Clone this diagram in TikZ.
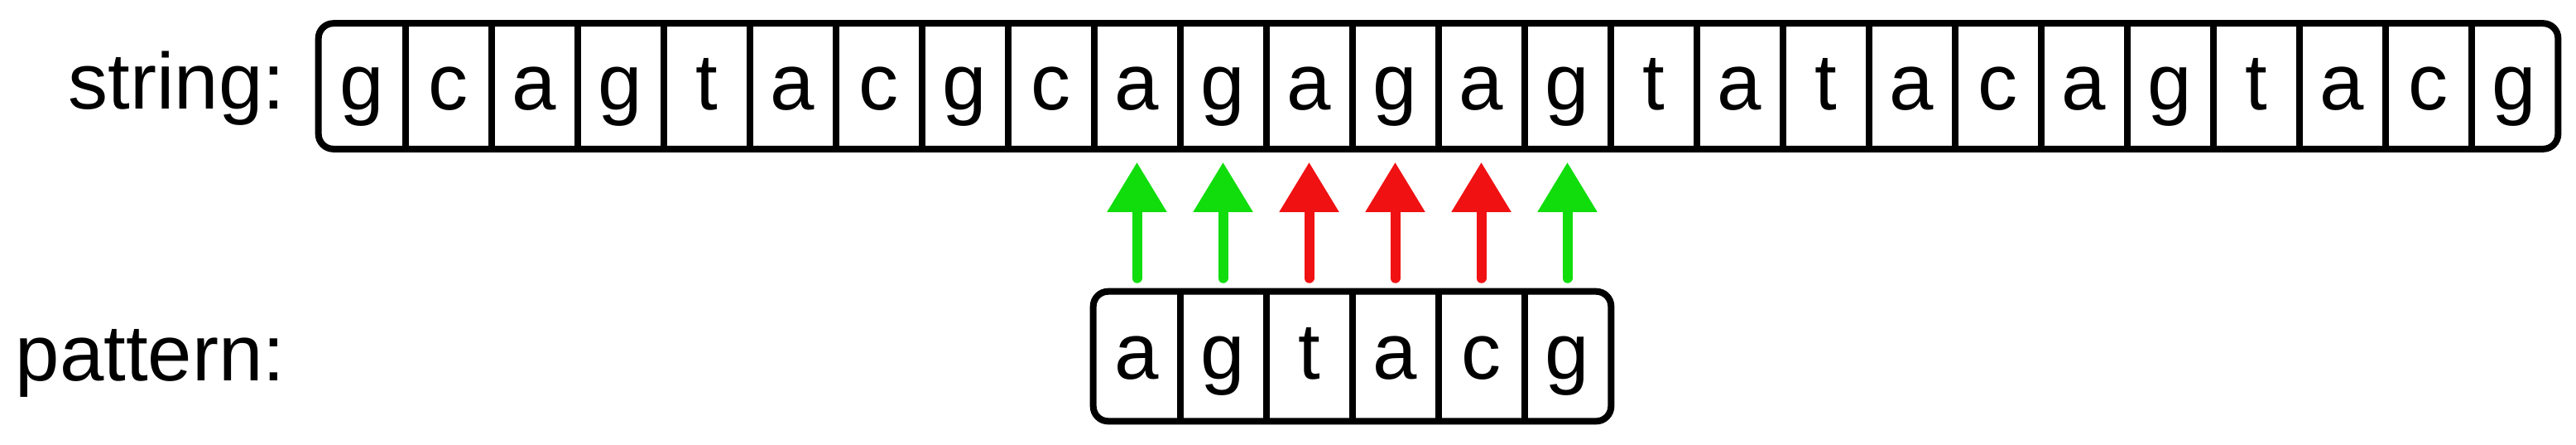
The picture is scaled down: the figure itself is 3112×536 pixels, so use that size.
\documentclass[tikz,border=0pt]{standalone}
\usepackage{fontspec}
\setmainfont{Liberation Sans}
\usetikzlibrary{arrows.meta}
\definecolor{okgreen}{RGB}{17,221,13}
\definecolor{badred}{RGB}{240,17,19}
\begin{document}
\begin{tikzpicture}[x=0.25pt,y=-0.25pt,
  cell/.style={rectangle, inner sep=0pt, minimum width=26pt, minimum height=37.5pt,
    text height=14pt, text depth=0pt, font=\fontsize{24}{29}\selectfont},
  pcell/.style={cell, minimum height=38.75pt, text height=13.5pt},
  lbl/.style={anchor=base east, inner sep=0pt, font=\fontsize{24}{29}\selectfont},
  frame/.style={draw=black, line width=2pt, rounded corners=4.5pt},
  sep/.style={draw=black, line width=2pt},
  cmp/.style={line width=3pt, line cap=round, shorten <=4pt, shorten >=4pt,
    -{Triangle[length=15pt,width=17.25pt]}},
  hit/.style={cmp, draw=okgreen, fill=okgreen},
  miss/.style={cmp, draw=badred, fill=badred}
]
\useasboundingbox (0,0) rectangle (3112,536);
% labels
\node[lbl] (lstring) at (345,131) {string:};
\node[lbl] (lpattern) at (345,459) {pattern:};
% string cells
\foreach \l [count=\i from 0] in {g,c,a,g,t,a,c,g,c,a,g,a,g,a,g,t,a,t,a,c,a,g,t,a,c,g}
  \node[cell] (s\i) at ({385.5+104*(\i+0.5)},104) {\l};
\draw[frame] (s0.north west) rectangle (s25.south east);
\foreach \i in {0,...,24}
  \draw[sep] (s\i.north east) -- (s\i.south east);
% pattern cells
\foreach \l [count=\i from 0] in {a,g,t,a,c,g}
  \node[pcell] (p\i) at ({385.5+104*(\i+9.5)},430) {\l};
\draw[frame] (p0.north west) rectangle (p5.south east);
\foreach \i in {0,...,4}
  \draw[sep] (p\i.north east) -- (p\i.south east);
% comparisons
\draw[hit]  (p0.north) -- (s9.south);
\draw[hit]  (p1.north) -- (s10.south);
\draw[miss] (p2.north) -- (s11.south);
\draw[miss] (p3.north) -- (s12.south);
\draw[miss] (p4.north) -- (s13.south);
\draw[hit]  (p5.north) -- (s14.south);
\end{tikzpicture}
\end{document}
